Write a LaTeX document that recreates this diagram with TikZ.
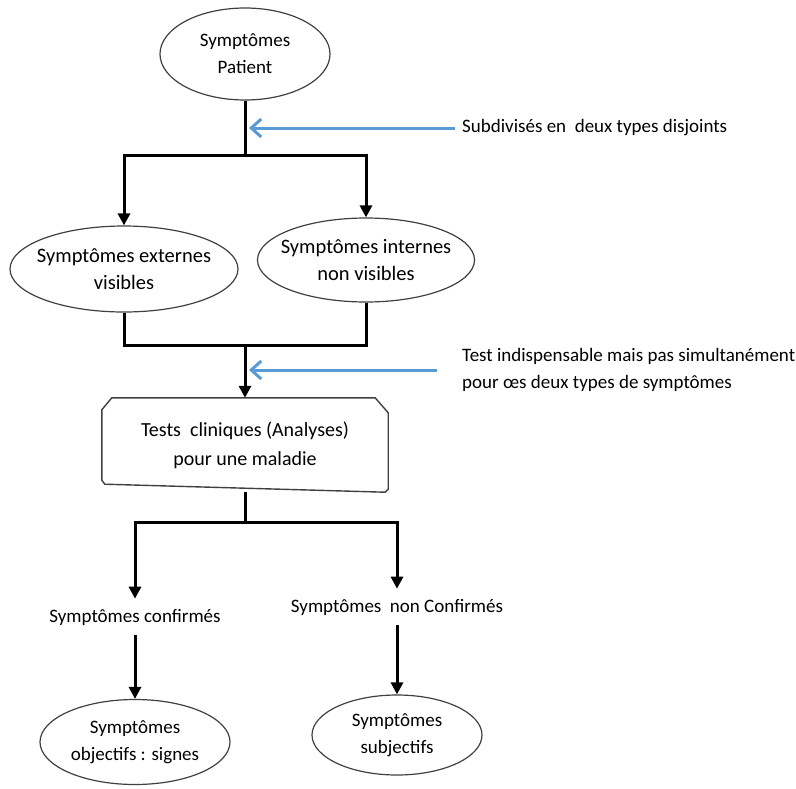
\documentclass[tikz,border=0pt]{standalone}
\usepackage{fontspec}
\setmainfont{Carlito}
\usepackage{xcolor}
\usetikzlibrary{positioning, arrows.meta, shapes.geometric, calc}
\definecolor{hintBlue}{HTML}{5B9BD5}
\definecolor{edgeGray}{HTML}{404040}

\tikzset{
  oval/.style={ellipse, draw=edgeGray, line width=1.2pt, inner xsep=-20pt, inner ysep=0pt, align=center},
  boxline/.style={draw=edgeGray, line width=1.4pt},
  link/.style={line width=3pt},
  flow/.style={link, -{Triangle[length=12pt,width=12pt]}},
  hint/.style={draw=hintBlue, line width=3pt, -{Straight Barb[length=10pt,width=18pt]}},
  note/.style={anchor=west, inner sep=0pt, align=left}
}

\begin{document}
\begin{tikzpicture}[x=1pt, y=-1pt, every node/.style={font=\fontsize{19}{27}\selectfont}]
        \useasboundingbox (0,0) rectangle (796,788);
        % Patient
        \node[oval, minimum width=170pt, minimum height=92pt] (patient) at (245,54) {Symptômes\\Patient};
        % Two kinds
        \node[oval, minimum width=228pt, minimum height=86pt, font=\fontsize{20.5}{27}\selectfont] (ext) at (124,269) {Symptômes externes\\visibles};
        \node[oval, minimum width=217pt, minimum height=84pt, font=\fontsize{20.5}{27}\selectfont] (int) at (366,260) {Symptômes internes\\non visibles};
        % Tests box
        \node[minimum width=286pt, minimum height=94pt, align=center, font=\fontsize{20}{29}\selectfont] (tests) at (245,445) {Tests~ cliniques (Analyses)\\pour une maladie};
        \draw[boxline] ([xshift=10pt]tests.north west) -- ([xshift=-13pt]tests.north east)
          -- ([yshift=-15pt]tests.north east) -- ([yshift=3pt]tests.south east)
          -- ([xshift=-3pt]tests.south east) -- ([xshift=3pt, yshift=8pt]tests.south west)
          -- ([yshift=12pt]tests.south west) -- ([yshift=-12pt]tests.north west) -- cycle;
        % Results
        \node[inner sep=10pt] (conf) at (135,617) {Symptômes confirmés};
        \node[inner sep=10pt] (nconf) at (397,607) {Symptômes~ non Confirmés};
        \node[oval, minimum width=190pt, minimum height=85pt] (obj) at (135,742) {Symptômes\\objectifs : signes};
        \node[oval, minimum width=170pt, minimum height=80pt] (subj) at (397,735) {Symptômes\\subjectifs};
        % Notes
        \node[note] (note1) at (462,128) {Subdivisés en~ deux types disjoints};
        \node[note] (note2) at (462,370) {Test indispensable mais pas simultanément\\pour œs deux types de symptômes};
        % Junctions
        \coordinate (j1) at (245,155);
        \coordinate (j2) at (245,345);
        \coordinate (j3) at (245,522);
        \coordinate (m1) at (249,128);
        \coordinate (m2) at (249,370);
        % Connectors
        \draw[link] (patient) -- (j1);
        \draw[flow] (j1) -| (ext);
        \draw[flow] (j1) -| (int);
        \draw[link] (ext) |- (j2) -| (int);
        \draw[flow] (j2) -- (tests);
        \draw[link] (tests) -- (j3);
        \draw[flow] (j3) -| (conf);
        \draw[flow] (j3) -| (nconf);
        \draw[flow] (conf) -- (obj);
        \draw[flow] (nconf) -- (subj);
        % Blue hints
        \draw[hint] ([xshift=-7pt]note1.west) -- (m1);
        \draw[hint] ([xshift=-25pt]note2.west) -- (m2);
      \end{tikzpicture}
\end{document}
